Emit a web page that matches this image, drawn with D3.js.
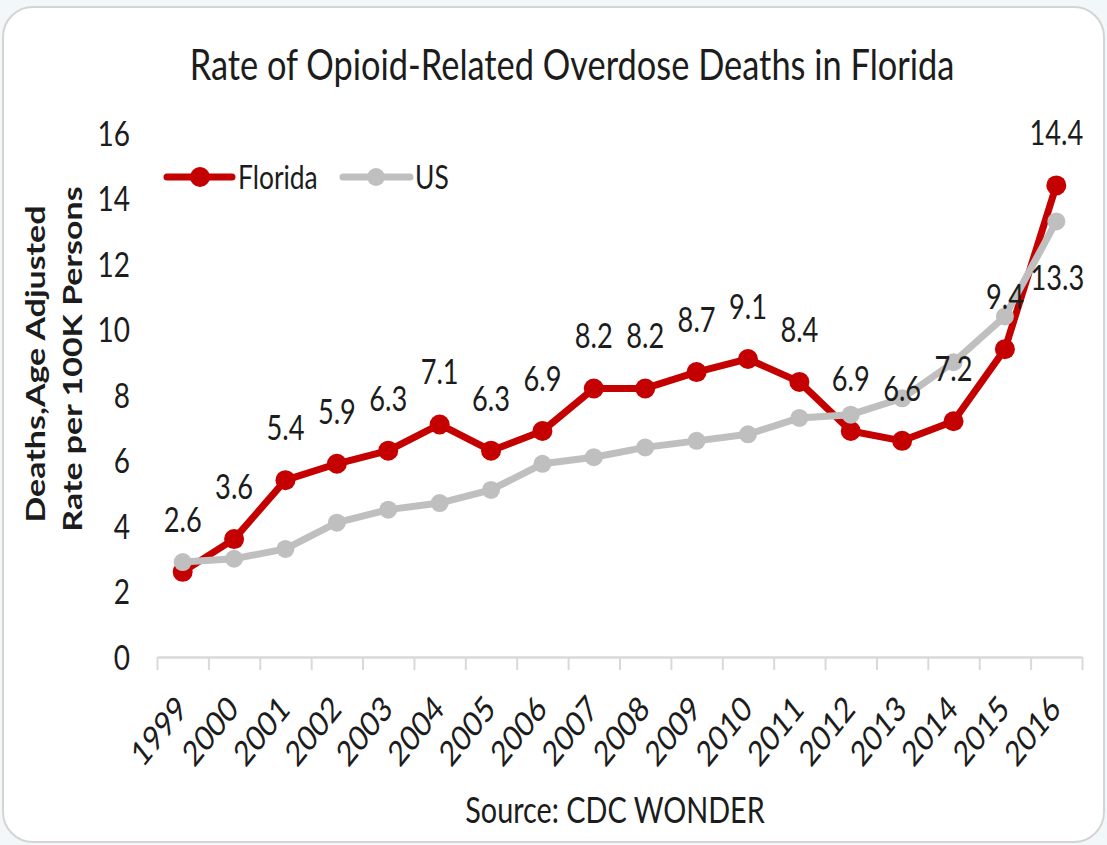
<!DOCTYPE html>
<html>
<head>
<meta charset="utf-8">
<script src="https://cdn.jsdelivr.net/npm/d3@7"></script>
<style>
  html, body { margin: 0; padding: 0; background: #f2f7fa; }
  svg { display: block; }
  text { font-family: Lato, "Noto Sans", sans-serif; fill: #1c1c1c; }
</style>
</head>
<body>
<svg id="chart" width="1107" height="845"></svg>
<script>
// Age-adjusted opioid overdose death rates per 100K persons
const years = ["1999", "2000", "2001", "2002", "2003", "2004", "2005", "2006", "2007",
               "2008", "2009", "2010", "2011", "2012", "2013", "2014", "2015", "2016"];
const florida = [2.6, 3.6, 5.4, 5.9, 6.3, 7.1, 6.3, 6.9, 8.2, 8.2, 8.7, 9.1, 8.4, 6.9, 6.6, 7.2, 9.4, 14.4];
const us = [2.9, 3.0, 3.3, 4.1, 4.5, 4.7, 5.1, 5.9, 6.1, 6.4, 6.6, 6.8, 7.3, 7.4, 7.9, 9.0, 10.4, 13.3];
const yTicks = [0, 2, 4, 6, 8, 10, 12, 14, 16];
const seriesNames = ["Florida", "US"];
const titleText = "Rate of Opioid-Related Overdose Deaths in Florida";
const yTitleLines = ["Deaths,Age Adjusted", "Rate per 100K Persons"];
const sourceText = "Source: CDC WONDER";

const RED = "#c40000";
const GRAY = "#bfbfbf";
const SX = 0.80;           // horizontal compression of all lettering

const svg = d3.select("#chart");

// rounded frame
svg.append("rect")
  .attr("x", 3).attr("y", 7).attr("width", 1101).attr("height", 835)
  .attr("rx", 30).attr("ry", 30)
  .attr("fill", "#ffffff").attr("stroke", "#d4d4d4").attr("stroke-width", 2);

function label(g, x, y, str, size, anchor, extra = "") {
  return g.append("text")
    .attr("transform", `translate(${x},${y}) scale(${SX},1)${extra}`)
    .attr("text-anchor", anchor)
    .attr("font-size", size)
    .text(str);
}

const x = d3.scaleBand().domain(years).range([157, 1082]);
const cx = d => x(d) + x.bandwidth() / 2;
const y = d3.scaleLinear().domain([0, 16]).range([657, 133]);

// title
label(svg, 572, 80, titleText, 43, "middle");

// y tick labels
const yAxis = svg.append("g").attr("transform", "translate(130,0)")
  .call(d3.axisLeft(y).tickValues(yTicks).tickSize(0).tickFormat(d3.format("d")));
yAxis.select(".domain").remove();
yAxis.selectAll("text")
  .attr("x", 0).attr("dy", null)
  .attr("font-family", null).attr("font-size", 35)
  .attr("fill", "#1c1c1c")
  .attr("transform", `translate(0,12) scale(${SX},1)`);

// y axis title (two lines)
svg.append("g").selectAll("text").data(yTitleLines).join("text")
  .attr("transform", (d, i) => `translate(${i === 0 ? 45 : 82},${i === 0 ? 364 : 359}) scale(${SX},1) rotate(-90)`)
  .attr("text-anchor", "middle")
  .attr("font-family", "'Liberation Sans', Arial, sans-serif")
  .attr("font-weight", "bold")
  .attr("font-size", 34)
  .text(d => d);

// x axis: ticks at category boundaries
const xb = d3.scaleLinear().domain([0, years.length]).range([157, 1082]);
const xAxis = svg.append("g").attr("transform", "translate(0,657)")
  .call(d3.axisBottom(xb).tickValues(d3.range(years.length + 1)).tickSize(13).tickSizeOuter(0).tickFormat(""));
xAxis.select(".domain").attr("stroke", "#d9d9d9").attr("stroke-width", 2.5);
xAxis.selectAll(".tick line").attr("stroke", "#d9d9d9").attr("stroke-width", 2);

// x category labels
const xl = svg.append("g");
years.forEach(yr => label(xl, cx(yr) + 6, 711, yr, 35, "end", " rotate(-45)"));

// series lines
const line = vals => d3.line().x((d, i) => cx(years[i])).y(d => y(d))(vals);

function drawSeries(vals, color, r) {
  const g = svg.append("g");
  g.append("path").attr("d", line(vals)).attr("fill", "none")
    .attr("stroke", color).attr("stroke-width", 7).attr("stroke-linejoin", "round");
  g.selectAll("circle").data(vals).join("circle")
    .attr("cx", (d, i) => cx(years[i])).attr("cy", d => y(d))
    .attr("r", r).attr("fill", color);
}
drawSeries(florida, RED, 10);
drawSeries(us, GRAY, 9);

// value labels: every Florida point, last US point
const vl = svg.append("g");
florida.forEach((v, i) => label(vl, cx(years[i]), y(v) - 40, v.toFixed(1), 34, "middle"));
const last = us.length - 1;
label(vl, cx(years[last]) + 1, y(us[last]) + 69, us[last].toFixed(1), 34, "middle");

// legend
const lg = svg.append("g");
[[167, 232, 200, 238, RED, 10], [343, 410, 376, 415, GRAY, 9]].forEach((p, i) => {
  lg.append("line").attr("x1", p[0]).attr("x2", p[1]).attr("y1", 177).attr("y2", 177)
    .attr("stroke", p[4]).attr("stroke-width", 7).attr("stroke-linecap", "round");
  lg.append("circle").attr("cx", p[2]).attr("cy", 177).attr("r", p[5]).attr("fill", p[4]);
  label(lg, p[3], 189, seriesNames[i], 33, "start");
});

// source note
label(svg, 615, 823, sourceText, 36, "middle");
</script>
</body>
</html>
